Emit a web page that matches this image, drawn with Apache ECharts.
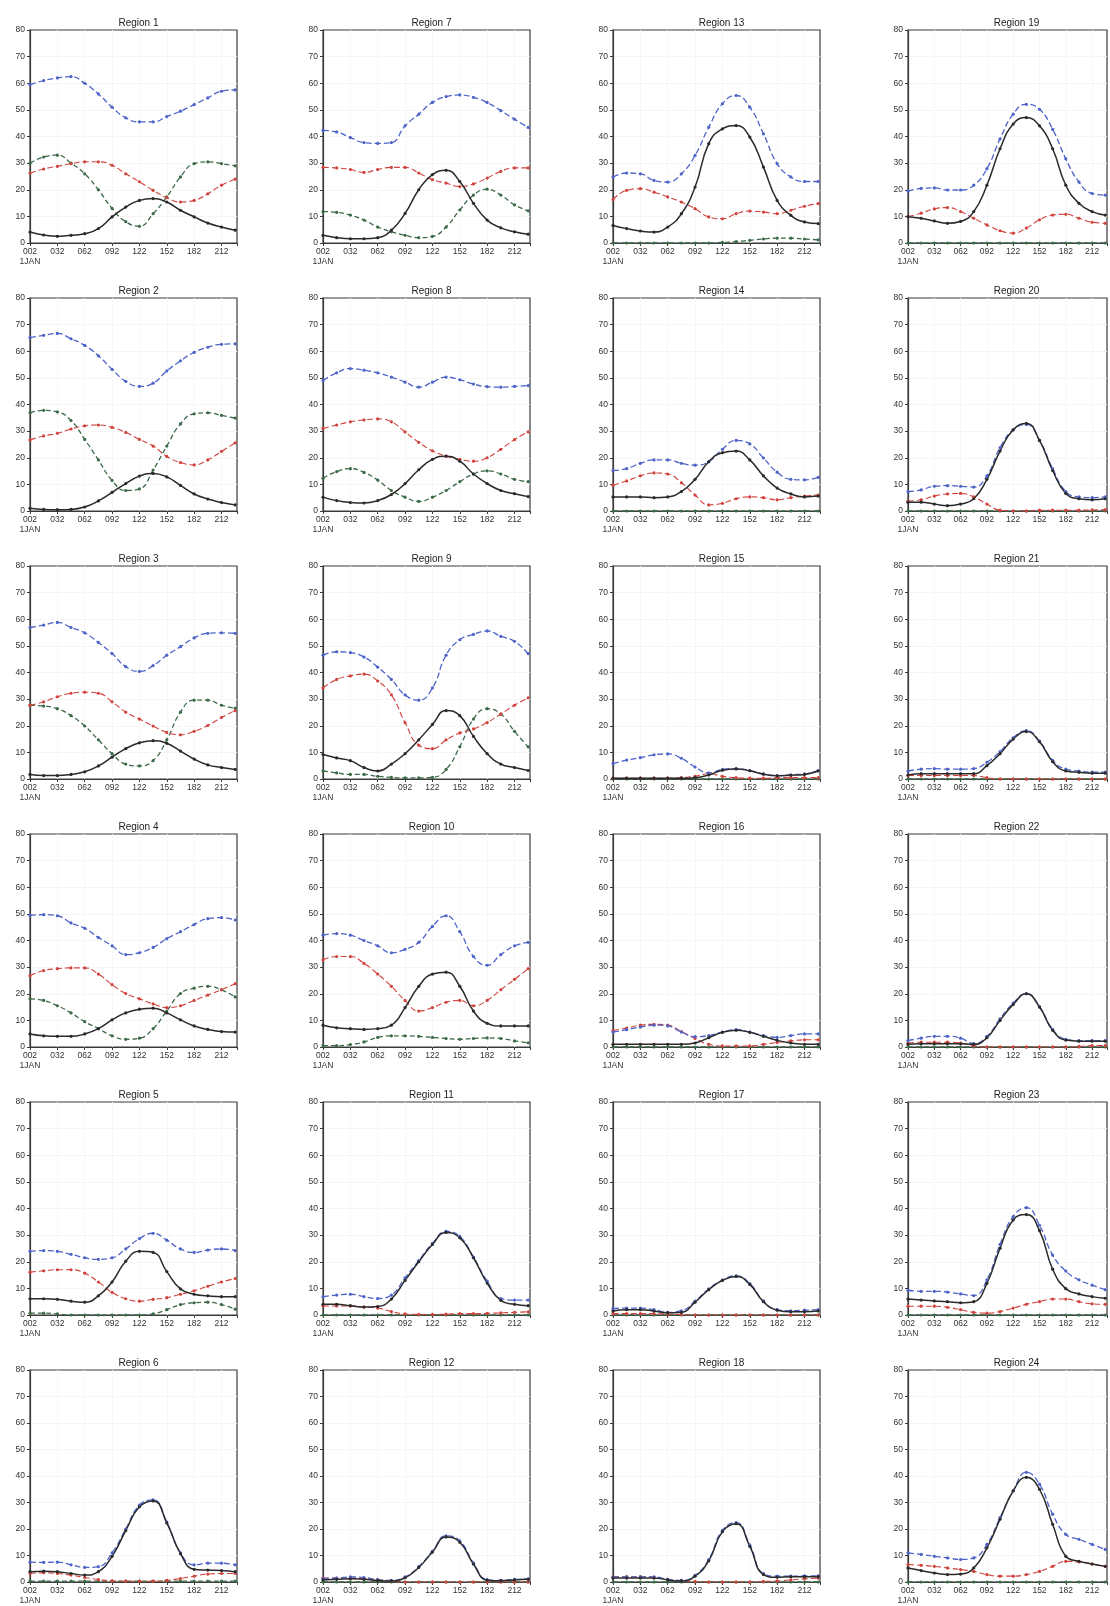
<!DOCTYPE html>
<html><head><meta charset="utf-8">
<script src="https://cdn.jsdelivr.net/npm/echarts@6/dist/echarts.min.js"></script>
<style>html,body{margin:0;padding:0;background:#fff}#c{width:1110px;height:1606px}</style>
</head><body><div id="c"></div>
<script>
// Day of year of each sample
const days = [2,17,32,47,62,77,92,107,122,137,152,167,182,197,212,227];
const xTickLabels = ['002','032','062','092','122','152','182','212'];
const yTicks = [0,10,20,30,40,50,60,70,80];
const regionNames = ['Region 1','Region 2','Region 3','Region 4','Region 5','Region 6',
  'Region 7','Region 8','Region 9','Region 10','Region 11','Region 12',
  'Region 13','Region 14','Region 15','Region 16','Region 17','Region 18',
  'Region 19','Region 20','Region 21','Region 22','Region 23','Region 24'];

const blue = [
 [59.5,61,62,62.5,60,56,51,47,45.5,45.5,47.5,49.5,52,54.5,57,57.5],            // R1
 [65.1,66,66.7,64.7,62.2,58.3,53.2,48.7,46.8,48,52.6,56.4,59.6,61.5,62.6,62.8], // R2
 [56.9,57.8,58.8,56.9,54.9,51.3,47.1,42.2,40.4,42.6,46.5,49.7,53,54.7,54.9,54.7], // R3
 [49.5,49.7,49.3,46.6,44.6,41.1,38,34.7,35.4,37.4,40.7,43.3,46,48.2,48.6,47.7], // R4
 [23.9,24.2,23.9,22.8,21.5,20.9,21.5,24.8,28.7,30.7,28.1,24.8,23.5,24.4,24.8,24.2], // R5
 [7.5,7.4,7.5,6.5,5.5,5.8,11,20,29,31,22.6,11,6.5,7.1,7.1,6.5],                  // R6
 [42.3,41.7,39.6,37.7,37.4,37.7,44,48.4,52.8,55,55.6,54.7,52.8,49.7,46.5,43.4],  // R7
 [49,51.9,53.5,52.9,51.9,50.3,48.4,46.5,48.4,50.3,49.3,47.7,46.7,46.5,46.8,47.1], // R8
 [46.5,47.8,47.5,45.8,42,37.4,31.6,29.6,34.2,46.5,52.3,54.3,55.6,53.6,51.7,47.1], // R9
 [42,42.6,42,40,38,35.4,36.7,39.3,45.3,49.3,43.3,34,30.7,34.7,38,39.3],          // R10
 [6.9,7.5,7.8,6.9,6.2,7.5,14,20.4,26.9,31.4,29.5,21.7,12.7,6.2,5.6,5.6],         // R11
 [1.3,1.5,1.9,1.7,0.9,0.6,1.9,5.8,11.6,17.4,15.5,7.1,0.9,0.6,1,1.2],             // R12
 [24.8,26.3,26,23.5,22.9,26,32.9,43.5,52.3,55.4,51,41,29.8,24.8,23.1,23.1],      // R13
 [15.2,15.9,17.9,19.2,19.2,17.9,17.2,18.5,23.2,26.5,25.2,19.9,14.6,11.9,11.7,12.6], // R14
 [5.8,7.1,8,9.1,9.4,7.8,4.5,2.3,3.6,3.9,3.2,1.9,1.3,1.6,1.9,3.2],                // R15
 [5.6,6.5,7.5,8.2,7.9,5.6,3.9,4.3,5.6,6.5,5.6,4.3,3.6,4.3,4.9,4.9],              // R16
 [2.4,2.6,2.6,2,1,1.6,5.2,9.8,13.1,14.7,11.8,5.2,2,1.6,1.8,2],                   // R17
 [1.9,1.9,1.9,1.9,1,0.6,2.5,8.5,19.5,22.4,14,3.2,2.2,2.2,2.3,2.3],               // R18
 [19.5,20.5,20.7,19.9,19.9,21.7,27.9,39.1,48.4,52.1,50.2,42.7,31.6,22.9,18.6,18], // R19
 [7.3,7.9,9.3,9.5,9.3,9,13.2,23.8,30.5,32.5,26.5,15.9,7.3,5.3,5,5.3],            // R20
 [3,3.7,3.9,3.7,3.7,3.9,6.3,10.3,15.5,18.2,14.2,7,3.7,3,2.6,2.6],                // R21
 [2.4,3.3,4,4,3.3,1.3,4,10.6,16.5,20.1,15.2,6.6,2.9,2.4,2.4,2.4],                // R22
 [9.3,8.9,8.9,8.6,7.9,7.3,13.2,26.5,37,40.3,33.7,22.5,16.5,13.2,11.2,9.5],       // R23
 [11,10.4,9.7,9.1,8.5,9.1,14.2,24.3,34.4,41.4,36.9,25.6,18,16.1,14.2,12.3]       // R24
];
const red = [
 [26.3,27.8,28.8,29.8,30.5,30.5,29.2,26,23,19.8,17,15.4,16,18.5,21.7,24],
 [26.7,28.2,29.2,30.8,32,32.3,31.4,29.5,26.9,24.4,20.5,18.2,17.3,19.2,22.4,25.6],
 [27.7,29,30.9,32.2,32.6,32.2,29,25.1,22.5,19.9,17.5,16.6,17.9,20.1,23.1,25.7],
 [26.8,28.7,29.4,29.7,29.7,27.4,23.4,20.1,18.1,16.2,14.8,15.5,17.5,19.5,21.5,23.8],
 [16.1,16.6,17,17,15.7,12.4,8.5,6.1,5.2,5.9,6.5,7.8,9.1,10.8,12.4,13.7],
 [3.2,3.5,3.2,2.6,1.7,0.9,0.4,0.3,0.3,0.3,0.6,1.3,2.2,3,3.2,3.2],
 [28.4,28.2,27.6,26.5,27.6,28.4,28.4,26.3,23.8,22.5,21.2,22.2,24.4,26.9,28.2,28.2],
 [31,32.3,33.5,34.2,34.6,33.5,29.7,25.8,22.6,20.6,19.4,18.7,20,23.2,26.8,29.7],
 [34.2,37.4,38.7,39.4,36.8,31.6,21.2,12.7,11.4,14.7,17.3,18.8,21.2,24.4,27.7,30.5],
 [32.7,34,34,31.4,27.4,22.8,17.5,13.5,14.8,16.8,17.5,15.5,17.5,21.5,25.4,29.4],
 [3.4,3.4,3.4,3,2.6,1.3,0.4,0.2,0.2,0.3,0.5,0.5,0.6,0.8,1,1.2],
 [1.5,1.5,1.5,1.3,0.8,0.3,0,0,0,0,0,0,0,0,0,0],
 [16.3,19.8,20.4,19.1,17.3,15.4,12.9,9.8,9.1,11,12,11.6,11,12.3,13.8,14.8],
 [9.7,11.3,13.2,14.3,13.9,10.6,6,2.3,2.9,4.6,5.3,5,4.2,5,5.6,6],
 [0.3,0.3,0.3,0.3,0.3,0.5,1,2,1,0.5,0.3,0.3,0.5,0.5,0.5,0.5],
 [6.2,7.1,8.2,8.5,8.2,5.8,3.2,1,0.4,0.4,0.4,1,1.7,2.3,2.7,2.7],
 [0.5,0.5,0.5,0.5,0.3,0.2,0,0,0,0,0,0,0,0,0,0],
 [2,2,2,1.8,1,0.5,0.2,0,0,0,0,0.2,0.4,0.8,1.2,1.5],
 [9.9,11.2,12.8,13.3,11.8,9.3,6.8,4.6,3.7,5.6,8.7,10.5,10.8,9.3,7.8,7.4],
 [3.7,4.2,5.6,6.4,6.6,5.3,2.6,0.3,0,0,0.3,0.3,0.3,0.3,0.4,0.5],
 [1.3,1.3,1.3,1.3,1.3,1.3,0.5,0,0,0,0,0,0,0,0,0],
 [1.5,1.8,1.8,1.8,1.5,0.5,0,0,0,0,0,0,0,0.2,0.5,0.5],
 [3.3,3.3,3.3,2.9,2,1,0.7,1.3,2.6,4,5,6,6,5,4.2,4],
 [6.6,6.3,5.9,5.3,4.7,4,2.8,2.2,2.2,2.8,4,5.9,7.8,7.6,6.8,5.9]
];
const black = [
 [4.1,3,2.5,2.9,3.5,5.4,9.8,13.5,16,16.7,15.4,12.3,9.8,7.5,6,4.8],
 [1,0.6,0.5,0.6,1.5,3.8,7,10.3,13.1,14.1,12.8,9.6,6.4,4.5,3.2,2.3],
 [1.7,1.3,1.3,1.7,2.7,4.9,8.2,11.4,13.6,14.4,13.4,10.5,7.5,5.3,4.3,3.6],
 [4.9,4.2,4,4,4.9,6.9,10.2,12.8,14.2,14.6,12.8,10.2,7.9,6.6,5.8,5.6],
 [6.1,6.1,5.9,5.2,4.8,7.2,12.4,20.2,23.9,23.5,16.3,9.8,7.8,7.2,6.9,6.9],
 [3.9,4.1,3.9,3.2,2.6,3.9,9.7,19.4,28.4,30.6,22.3,10.7,4.8,4.5,4.3,3.9],
 [2.9,2,1.6,1.6,2,4.8,11.1,20,25.7,27.3,23.1,14.9,8.6,5.7,4.2,3.3],
 [5.2,3.9,3.2,3,3.9,6.2,10.3,15.5,19.4,20.6,18.7,13.9,10.3,7.7,6.5,5.4],
 [9.2,7.9,6.9,4.3,3,5.6,9.5,14.7,20.5,25.7,23.8,16,9.5,5.6,4.3,3.2],
 [8.2,7.2,6.9,6.6,6.9,8.2,14.8,22.8,27.4,28.1,22.8,13.5,8.9,7.9,7.9,7.9],
 [4,4,3.5,3,3.2,6,13,20,26.5,31,29,21.5,12,5.5,4,3.5],
 [0.8,1,1.2,1,0.6,0.4,1.6,5.5,11.3,17,15,6.8,0.7,0.5,0.8,1],
 [6.6,5.4,4.5,4.1,6,11,21,37.3,42.9,44.1,39.8,28.5,16,10.4,7.9,7.3],
 [5.3,5.3,5.3,5,5.3,7.3,11.9,18.5,21.9,22.5,19.2,13.2,8.6,6.4,5.3,5.6],
 [0.3,0.3,0.3,0.3,0.3,0.3,0.5,1.5,3.3,3.8,3.1,1.8,1.2,1.4,1.7,3],
 [1,1,1,1,1,1,1.5,3.5,5.5,6.3,5.5,4,2.5,1.5,1,1],
 [1.5,2,2,1.5,0.8,1,4.8,9.5,13,14.5,11.5,5,1.8,1.2,1.2,1.5],
 [1.5,1.5,1.5,1.5,0.8,0.4,2.2,8,19,22,13.5,2.8,1.8,2,2,2],
 [9.9,9.3,8.3,7.4,8.1,11.8,21.7,35.4,44.7,47.1,44,35.4,21.7,14.9,11.8,10.5],
 [3.3,3.3,2.6,2,2.6,4.6,11.9,22.5,30.5,32.9,26.5,15.2,6.6,4.6,4.2,4.6],
 [1.5,2,2,2,2,2,5,9.5,15,17.8,14,6.5,3,2.5,2.2,2.2],
 [1,1.2,1.2,1.2,1.2,1,3.5,10,16,20,15,6.3,2.6,2.2,2.2,2.2],
 [6,5.6,5.3,5,4.6,5,11.9,25.1,35.7,37.7,31.7,17.2,9.9,7.9,6.9,6.3],
 [5.3,4.3,3.4,2.8,3,5.3,12.9,23.7,34.4,39.5,35,21.8,9.7,7.8,6.8,5.9]
];
const green = [
 [30,32.3,33,30,26,20,13,8,6.3,11,17.3,24.8,29.8,30.5,29.8,29],
 [36.9,37.8,37.2,34,26.9,19.2,11.5,7.7,8.3,15.4,24.4,32.7,36.5,36.9,35.9,34.9],
 [27.7,27.4,26.4,23.8,19.9,14.7,9.5,5.6,4.9,6.9,14.7,25.1,29.6,29.6,27.7,26.6],
 [18.1,17.5,15.5,12.8,9.5,6.9,4.2,2.9,3.3,6.9,13.5,20.1,22.1,22.8,21.5,18.8],
 [0.7,0.7,0.4,0,0,0,0,0,0,0.4,2,3.9,4.6,4.8,3.9,2.2],
 [0.3,0.3,0.3,0.3,0.3,0.3,0.3,0.3,0.3,0.3,0.3,0.3,0.3,0.3,0.3,0.3],
 [11.8,11.5,10.5,8.6,6,4.2,2.9,2,2.5,6,12.4,18,20.2,18,14.3,12.1],
 [12.3,14.8,15.9,14.5,11.6,7.7,5.2,3.6,5.2,7.7,11,13.9,15.1,13.9,11.9,11],
 [3,2.3,1.7,1.7,1,0.6,0.4,0.4,0.6,3.6,12.1,22.5,26.4,24.4,17.9,12.1],
 [0.5,0.5,0.9,1.9,3.6,4.2,4.2,4,3.6,3.2,2.9,3.2,3.4,3.2,2.3,1.6],
 [0,0,0,0,0,0,0,0,0,0,0,0,0,0,0,0],
 [0,0,0,0,0,0,0,0,0,0,0,0,0,0,0,0],
 [0,0,0,0,0,0,0,0,0.2,0.5,1,1.5,1.8,1.8,1.5,1.2],
 [0,0,0,0,0,0,0,0,0,0,0,0,0,0,0,0],
 [0,0,0,0,0,0,0,0,0,0,0,0,0,0,0,0],
 [0,0,0,0,0,0,0,0,0,0,0,0,0,0,0,0],
 [0,0,0,0,0,0,0,0,0,0,0,0,0,0,0,0],
 [0,0,0,0,0,0,0,0,0,0,0,0,0,0,0,0],
 [0,0,0,0,0,0,0,0,0,0,0,0,0,0,0,0],
 [0,0,0,0,0,0,0,0,0,0,0,0,0,0,0,0],
 [0,0,0,0,0,0,0,0,0,0,0,0,0,0,0,0],
 [0,0,0,0,0,0,0,0,0,0,0,0,0,0,0,0],
 [0,0,0,0,0,0,0,0,0,0,0,0,0,0,0,0],
 [0,0,0,0,0,0,0,0,0,0,0,0,0,0,0,0]
];

const colLeft = [30, 323, 613, 908];
const rowTop0 = 30, rowStep = 268, plotW = 207, plotH = 213;
const FONT = '"Liberation Sans", Arial, sans-serif';

const styles = [
  {data: green, color: '#3c6a48', type: [5, 3], width: 1.3},
  {data: red,   color: '#d0423c', type: [6, 3], width: 1.1},
  {data: blue,  color: '#4e63c8', type: [6, 3], width: 1.3},
  {data: black, color: '#2a2a2a', type: 'solid', width: 1.5}
];

const grids = [], xAxes = [], yAxes = [], titles = [], series = [];
regionNames.forEach((name, i) => {
  const col = Math.floor(i / 6), row = i % 6;
  const left = colLeft[col], top = rowTop0 + row * rowStep;
  grids.push({left: left, top: top, width: plotW, height: plotH, show: true,
    borderColor: '#3a3a3a', borderWidth: 1.2, backgroundColor: '#fff', containLabel: false});
  titles.push({text: name, left: left + plotW / 2, top: top - 17, textAlign: 'center',
    textStyle: {fontSize: 10, fontWeight: 'normal', color: '#222', fontFamily: FONT}});
  xAxes.push({gridIndex: i, type: 'value', min: 2, max: 229, interval: 30,
    axisLine: {show: true, lineStyle: {color: '#3a3a3a', width: 1.2}},
    axisTick: {show: true, length: 3, lineStyle: {color: '#3a3a3a'}},
    splitLine: {show: true, showMinLine: false, showMaxLine: false, lineStyle: {color: '#eeeeee', type: 'dotted'}},
    axisLabel: {fontSize: 8.5, color: '#333', fontFamily: FONT, margin: 4, lineHeight: 10,
      formatter: v => {
        const k = Math.round((v - 2) / 30);
        if (Math.abs(v - 2 - k * 30) > 0.01 || k < 0 || k >= xTickLabels.length) return '';
        return k === 0 ? xTickLabels[0] + '\n1JAN' : xTickLabels[k];
      }}});
  yAxes.push({gridIndex: i, type: 'value', min: yTicks[0], max: yTicks[yTicks.length - 1], interval: 10,
    axisLine: {show: true, lineStyle: {color: '#3a3a3a', width: 1.2}},
    axisTick: {show: true, length: 3, lineStyle: {color: '#3a3a3a'}},
    splitLine: {show: true, showMinLine: false, showMaxLine: false, lineStyle: {color: '#eeeeee', type: 'dotted'}},
    axisLabel: {fontSize: 8.5, color: '#333', fontFamily: FONT, margin: 5}});
  styles.forEach(s => {
    series.push({type: 'line', xAxisIndex: i, yAxisIndex: i, smooth: true,
      data: days.map((d, k) => [d, s.data[i][k]]),
      symbol: 'circle', symbolSize: 3.2, showSymbol: true,
      lineStyle: {color: s.color, width: s.width, type: s.type},
      itemStyle: {color: s.color}, silent: true, animation: false, z: 3});
  });
});

const chart = echarts.init(document.getElementById('c'), null, {renderer: 'canvas'});
chart.setOption({
  backgroundColor: '#ffffff',
  animation: false,
  title: titles, grid: grids, xAxis: xAxes, yAxis: yAxes, series: series
});
</script></body></html>
